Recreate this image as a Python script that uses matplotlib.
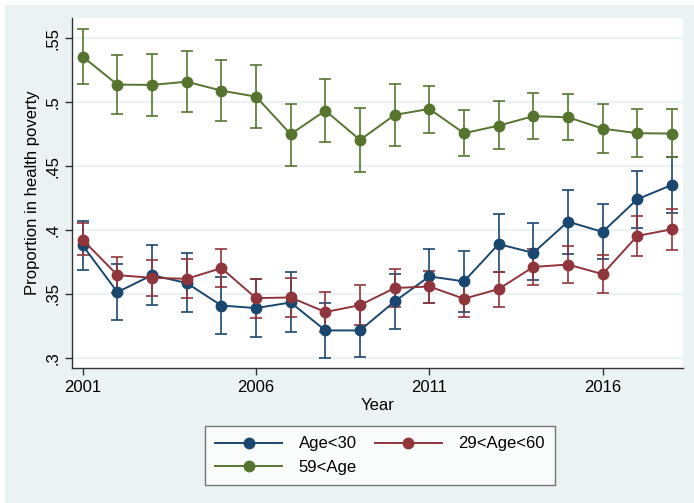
import numpy as np
import matplotlib
matplotlib.use("Agg")
from matplotlib import pyplot as plt
from matplotlib.patches import Rectangle

plt.rcParams['font.family'] = ['Liberation Sans', 'DejaVu Sans']

years = list(range(2001, 2019))

# Age<30
young = [0.3878, 0.3513, 0.3646, 0.3584, 0.3408, 0.3388, 0.3432, 0.3213, 0.3213,
         0.3440, 0.3636, 0.3597, 0.3889, 0.3820, 0.4065, 0.3984, 0.4240, 0.4352]
young_lo = [0.3688, 0.3296, 0.3414, 0.3354, 0.3184, 0.3161, 0.3200, 0.2997, 0.3004,
            0.3224, 0.3425, 0.3354, 0.3672, 0.3604, 0.3812, 0.3772, 0.4013, 0.4136]
young_hi = [0.4070, 0.3735, 0.3878, 0.3819, 0.3635, 0.3615, 0.3672, 0.3430, 0.3422,
            0.3656, 0.3847, 0.3837, 0.4125, 0.4052, 0.4313, 0.4201, 0.4462, 0.4574]

# 29<Age<60
middle = [0.3922, 0.3646, 0.3625, 0.3617, 0.3701, 0.3466, 0.3471, 0.3357, 0.3411,
          0.3545, 0.3557, 0.3461, 0.3537, 0.3710, 0.3729, 0.3654, 0.3953, 0.4005]
middle_lo = [0.3803, 0.3505, 0.3479, 0.3469, 0.3550, 0.3310, 0.3315, 0.3201, 0.3254,
             0.3394, 0.3424, 0.3322, 0.3396, 0.3570, 0.3584, 0.3505, 0.3798, 0.3844]
middle_hi = [0.4052, 0.3787, 0.3766, 0.3772, 0.3854, 0.3615, 0.3625, 0.3513, 0.3568,
             0.3696, 0.3682, 0.3600, 0.3672, 0.3850, 0.3875, 0.3805, 0.4110, 0.4167]

# 59<Age
old = [0.5356, 0.5137, 0.5135, 0.5160, 0.5090, 0.5043, 0.4749, 0.4934, 0.4704,
       0.4900, 0.4947, 0.4757, 0.4816, 0.4890, 0.4882, 0.4793, 0.4757, 0.4754]
old_lo = [0.5145, 0.4908, 0.4892, 0.4923, 0.4853, 0.4798, 0.4503, 0.4686, 0.4454,
          0.4657, 0.4761, 0.4577, 0.4634, 0.4710, 0.4702, 0.4600, 0.4569, 0.4569]
old_hi = [0.5570, 0.5372, 0.5380, 0.5400, 0.5333, 0.5293, 0.4988, 0.5182, 0.4955,
          0.5143, 0.5129, 0.4941, 0.5007, 0.5070, 0.5062, 0.4984, 0.4949, 0.4947]

labels = ["Age<30", "29<Age<60", "59<Age"]
colors = ["#1a476f", "#90353b", "#55752f"]

yticks = [0.3, 0.35, 0.4, 0.45, 0.5, 0.55]
ytick_labels = [".3", ".35", ".4", ".45", ".5", ".55"]
xticks = [2001, 2006, 2011, 2016]

W, H = 694, 503
fig = plt.figure(figsize=(W / 100, H / 100), dpi=100)
fig.patch.set_facecolor("white")
bg = "#eaf2f3"
fig.patches.append(Rectangle((5 / W, 0), 1, 1 - 5 / H, transform=fig.transFigure,
                             facecolor=bg, edgecolor="none", zorder=-10))

ax = fig.add_axes([72 / W, 1 - 368 / H, (683 - 72) / W, (368 - 17.7) / H])
ax.set_facecolor("white")

series = [(young, young_lo, young_hi), (middle, middle_lo, middle_hi), (old, old_lo, old_hi)]
handles = []
for (v, lo, hi), lab, c in zip(series, labels, colors):
    v = np.array(v)
    err = [v - np.array(lo), np.array(hi) - v]
    ax.errorbar(years, v, yerr=err, fmt="none", ecolor=c, elinewidth=1.4,
                capsize=4, capthick=1.4, alpha=0.85, zorder=2)
    h, = ax.plot(years, v, "-o", color=c, lw=1.4, markersize=7.5, zorder=3, label=lab)
    handles.append(h)

ax.set_xlim(2000.69, 2018.32)
ax.set_ylim(0.2919, 0.5661)
ax.set_yticks(yticks)
ax.set_yticklabels(ytick_labels, rotation=90, va="center")
ax.set_xticks(xticks)
ax.set_xticklabels([str(x) for x in xticks])
ax.tick_params(axis="both", labelsize=12, length=5, width=1, color="#333333", direction="out")
ax.grid(axis="y", color=bg, lw=1.5)
ax.set_axisbelow(True)
for s in ["top", "right"]:
    ax.spines[s].set_visible(False)
for s in ["left", "bottom"]:
    ax.spines[s].set_color("#333333")
    ax.spines[s].set_linewidth(1)

ax.set_xlabel("Year", fontsize=12, labelpad=2)
ax.set_ylabel("Proportion in health poverty", fontsize=12, labelpad=4)

# row-wise ordering like Stata
leg = fig.legend([handles[0], handles[2], handles[1]], [labels[0], labels[2], labels[1]],
                 ncol=2, loc="center", bbox_to_anchor=(380 / W, 1 - 455.5 / H),
                 fontsize=12, frameon=True, fancybox=False, handlelength=4.0,
                 columnspacing=1.1, handletextpad=1.0, labelspacing=0.5,
                 borderpad=0.6)
leg.get_frame().set_edgecolor("#555555")
leg.get_frame().set_linewidth(1)

fig.savefig("out.png", dpi=100, facecolor=fig.get_facecolor())
